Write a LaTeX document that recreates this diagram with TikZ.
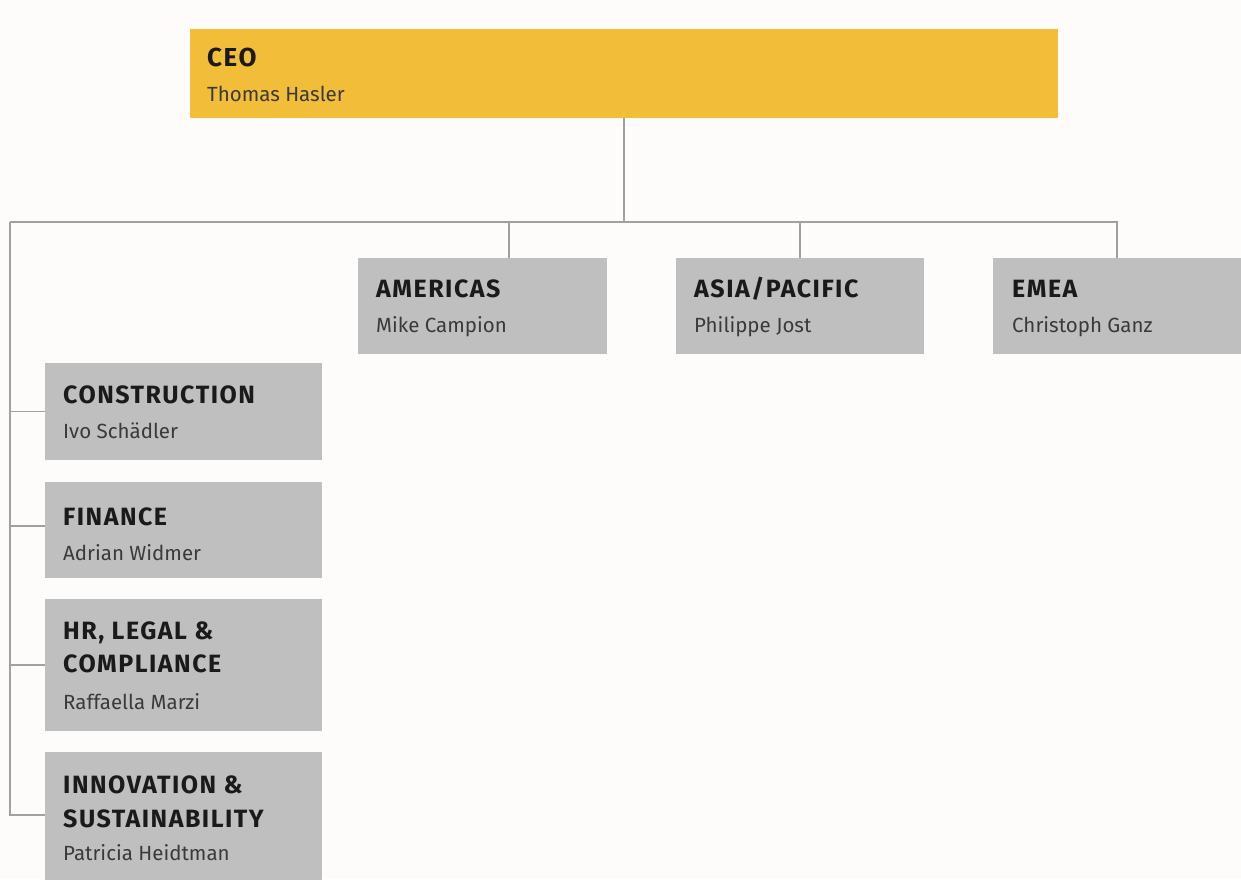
\documentclass[tikz,border=0pt]{standalone}
\usepackage{fontspec}
\setmainfont{Fira Sans}
\definecolor{ceoc}{HTML}{F2BD38}
\definecolor{boxc}{HTML}{BFBFBF}
\definecolor{linec}{HTML}{A0A0A0}
\definecolor{titlec}{HTML}{1A1A1A}
\definecolor{namec}{HTML}{3A3A3A}
\definecolor{bgc}{HTML}{FDFCFA}
\tikzset{
  box/.style={fill=boxc, draw=none, anchor=north west, inner sep=0pt, outer sep=0pt},
  ttl/.style={anchor=base west, inner sep=0pt, font=\fontsize{25}{29}\selectfont\bfseries\addfontfeatures{LetterSpace=6}, text=titlec},
  nm/.style={anchor=base west, inner sep=0pt, font=\fontsize{20.5}{24}\selectfont, text=namec},
  conn/.style={draw=linec, line width=1.1pt}
}
\begin{document}
\begin{tikzpicture}[x=1pt,y=-1pt]
\fill[bgc] (0,0) rectangle (1241,879);
\useasboundingbox (0,0) rectangle (1241,879);

% CEO
\node[box, fill=ceoc, minimum width=868pt, minimum height=89pt] (ceo) at (190,29) {};
\node[ttl, font=\fontsize{26}{30}\selectfont\bfseries\addfontfeatures{LetterSpace=6}] (ceot) at (207,66) {CEO};
\node[nm] (ceon) at (207,101) {Thomas Hasler};

% regions
\node[box, minimum width=249pt, minimum height=96pt] (am) at (358,258) {};
\node[ttl] (amt) at (376,297) {AMERICAS};
\node[nm] (amn) at (376,332) {Mike Campion};

\node[box, minimum width=248pt, minimum height=96pt] (ap) at (676,258) {};
\node[ttl] (apt) at (694,297) {ASIA/PACIFIC};
\node[nm] (apn) at (694,332) {Philippe Jost};

\node[box, minimum width=248pt, minimum height=96pt] (em) at (993,258) {};
\node[ttl] (emt) at (1012,297) {EMEA};
\node[nm] (emn) at (1012,332) {Christoph Ganz};

% functions
\node[box, minimum width=277pt, minimum height=97pt] (co) at (45,363) {};
\node[ttl] (cot) at (63,403) {CONSTRUCTION};
\node[nm] (con) at (63,438) {Ivo Schädler};

\node[box, minimum width=277pt, minimum height=96pt] (fi) at (45,482) {};
\node[ttl] (fit) at (63,525) {FINANCE};
\node[nm] (fin) at (63,560) {Adrian Widmer};

\node[box, minimum width=277pt, minimum height=132pt] (hr) at (45,599) {};
\node[ttl] (hrt1) at (63,639) {HR, LEGAL \&};
\node[ttl] (hrt2) at (63,672) {COMPLIANCE};
\node[nm] (hrn) at (63,709) {Raffaella Marzi};

\node[box, minimum width=277pt, minimum height=132pt] (in) at (45,752) {};
\node[ttl] (int1) at (63,793) {INNOVATION \&};
\node[ttl] (int2) at (63,827) {SUSTAINABILITY};
\node[nm] (inn) at (63,860) {Patricia Heidtman};

% connectors
\coordinate (hl) at (10,222);
\coordinate (amtop) at (509,258);
\draw[conn] (ceo.south) -- (ceo.south |- hl);
\draw[conn] (hl) -- (em.north |- hl) -- (em.north);
\draw[conn] (amtop) -- (amtop |- hl);
\draw[conn] (ap.north) -- (ap.north |- hl);
\draw[conn] (hl) |- ([yshift=3pt]in.west);
\draw[conn] (co.west) -- (co.west -| hl);
\draw[conn] ([yshift=4pt]fi.west) -- ([yshift=4pt]fi.west -| hl);
\draw[conn] (hr.west) -- (hr.west -| hl);
\end{tikzpicture}
\end{document}
